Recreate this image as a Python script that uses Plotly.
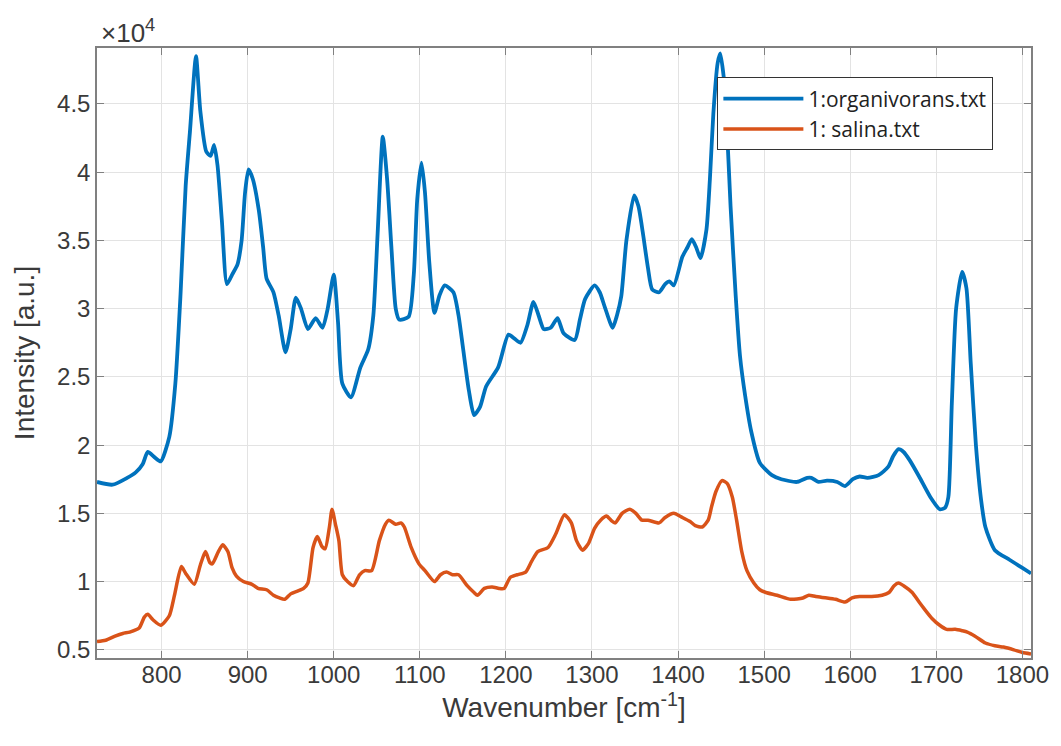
import plotly.graph_objects as go

SCALE = 1e4

blue_x = [725, 743, 760, 770, 778, 784, 792, 799, 809, 816, 822, 828, 833, 840, 845, 852, 857, 861, 865, 870,
          876, 882, 888, 893, 897, 901, 906, 913, 918, 922, 930, 936, 944, 950, 956, 962, 970, 979, 987, 993,
          1000, 1005, 1010, 1020, 1031, 1040, 1046, 1051, 1057, 1062, 1067, 1072, 1076, 1087, 1093, 1097, 1102, 1106, 1111, 1117,
          1123, 1129, 1139, 1145, 1150, 1157, 1163, 1170, 1177, 1191, 1203, 1210, 1217, 1225, 1232, 1238, 1244, 1252, 1260, 1267,
          1280, 1286, 1292, 1303, 1309, 1315, 1324, 1329, 1334, 1340, 1349, 1354, 1359, 1365, 1370, 1378, 1385, 1390, 1395, 1405,
          1411, 1416, 1421, 1426, 1433, 1437, 1441, 1446, 1449, 1453, 1456, 1461, 1467, 1472, 1478, 1485, 1495, 1509, 1520, 1538,
          1550, 1555, 1563, 1573, 1585, 1594, 1603, 1611, 1620, 1633, 1644, 1650, 1656, 1662, 1669, 1680, 1693, 1704, 1710, 1714,
          1718, 1723, 1730, 1735, 1740, 1746, 1752, 1757, 1768, 1785, 1800, 1810]
blue_y = [1.73, 1.71, 1.76, 1.80, 1.86, 1.95, 1.91, 1.88, 2.06, 2.45, 3.10, 3.90, 4.30, 4.85, 4.45, 4.15, 4.12, 4.20, 4.05, 3.65,
          3.18, 3.25, 3.32, 3.50, 3.85, 4.02, 3.95, 3.72, 3.45, 3.22, 3.12, 2.95, 2.68, 2.85, 3.08, 3.00, 2.85, 2.93, 2.86, 3.00,
          3.25, 2.90, 2.45, 2.35, 2.57, 2.70, 2.95, 3.55, 4.26, 3.95, 3.45, 3.00, 2.92, 2.94, 3.25, 3.80, 4.07, 3.85, 3.34, 2.97,
          3.10, 3.17, 3.12, 2.95, 2.72, 2.40, 2.22, 2.28, 2.43, 2.57, 2.81, 2.78, 2.75, 2.88, 3.05, 2.95, 2.85, 2.86, 2.93, 2.82,
          2.77, 2.92, 3.07, 3.17, 3.12, 3.01, 2.86, 2.95, 3.09, 3.50, 3.83, 3.75, 3.56, 3.30, 3.14, 3.12, 3.18, 3.20, 3.17, 3.38,
          3.45, 3.51, 3.45, 3.37, 3.58, 3.95, 4.43, 4.80, 4.87, 4.70, 4.43, 3.75, 3.09, 2.65, 2.36, 2.10, 1.87, 1.78, 1.75, 1.73,
          1.76, 1.76, 1.73, 1.74, 1.73, 1.70, 1.75, 1.77, 1.76, 1.78, 1.84, 1.92, 1.97, 1.95, 1.89, 1.77, 1.62, 1.53, 1.54, 1.62,
          2.30, 3.00, 3.27, 3.15, 2.60, 2.00, 1.60, 1.40, 1.23, 1.16, 1.10, 1.06]

orange_x = [725, 735, 746, 755, 763, 774, 780, 784, 790, 799, 809, 815, 823, 828, 838, 845, 851, 856, 859, 866,
            871, 877, 882, 887, 895, 905, 912, 922, 930, 937, 943, 950, 958, 965, 970, 976, 981, 986, 990, 995,
            998, 1002, 1006, 1010, 1016, 1023, 1030, 1036, 1044, 1053, 1060, 1064, 1072, 1078, 1082, 1090, 1099, 1106, 1117, 1124,
            1131, 1138, 1145, 1155, 1163, 1167, 1175, 1184, 1192, 1198, 1205, 1213, 1223, 1230, 1237, 1249, 1258, 1268, 1276, 1282,
            1289, 1296, 1303, 1310, 1317, 1322, 1327, 1335, 1344, 1351, 1358, 1365, 1378, 1385, 1395, 1405, 1414, 1420, 1428, 1435,
            1439, 1444, 1451, 1457, 1463, 1468, 1474, 1480, 1488, 1495, 1502, 1515, 1531, 1545, 1552, 1560, 1573, 1583, 1594, 1602,
            1611, 1625, 1637, 1645, 1651, 1656, 1662, 1672, 1680, 1686, 1695, 1704, 1712, 1722, 1730, 1736, 1745, 1757, 1768, 1778,
            1790, 1800, 1810]
orange_y = [0.56, 0.57, 0.60, 0.62, 0.63, 0.66, 0.74, 0.76, 0.72, 0.68, 0.75, 0.90, 1.11, 1.06, 0.98, 1.12, 1.22, 1.14, 1.13, 1.22,
            1.27, 1.22, 1.10, 1.04, 1.00, 0.98, 0.95, 0.94, 0.90, 0.88, 0.87, 0.91, 0.93, 0.95, 0.99, 1.25, 1.33, 1.26, 1.24, 1.40,
            1.53, 1.42, 1.30, 1.05, 1.00, 0.97, 1.05, 1.08, 1.08, 1.30, 1.42, 1.45, 1.42, 1.43, 1.40, 1.25, 1.13, 1.08, 1.00, 1.05,
            1.07, 1.05, 1.05, 0.97, 0.92, 0.90, 0.95, 0.96, 0.95, 0.95, 1.03, 1.05, 1.07, 1.15, 1.22, 1.25, 1.35, 1.49, 1.43, 1.30,
            1.23, 1.28, 1.39, 1.45, 1.48, 1.45, 1.43, 1.50, 1.53, 1.50, 1.45, 1.45, 1.43, 1.47, 1.50, 1.47, 1.44, 1.41, 1.40, 1.45,
            1.55, 1.66, 1.74, 1.72, 1.62, 1.45, 1.22, 1.08, 0.99, 0.94, 0.92, 0.90, 0.87, 0.88, 0.90, 0.89, 0.88, 0.87, 0.85, 0.88,
            0.89, 0.89, 0.90, 0.92, 0.97, 0.99, 0.97, 0.92, 0.85, 0.80, 0.73, 0.68, 0.65, 0.65, 0.64, 0.63, 0.60, 0.55, 0.53, 0.52,
            0.50, 0.48, 0.47]

series_names = ["1:organivorans.txt", "1: salina.txt"]
x_ticks = [800, 900, 1000, 1100, 1200, 1300, 1400, 1500, 1600, 1700, 1800]
y_tick_labels = ["0.5", "1", "1.5", "2", "2.5", "3", "3.5", "4", "4.5"]
y_tick_values = [0.5, 1, 1.5, 2, 2.5, 3, 3.5, 4, 4.5]

FONT = "Liberation Sans"
TXT = "#3a3a3a"

fig = go.Figure()
fig.add_trace(go.Scatter(x=blue_x, y=[v * SCALE for v in blue_y], mode="lines", name=series_names[0],
                         line=dict(color="#0072BD", width=3.8, shape="spline", smoothing=0.6)))
fig.add_trace(go.Scatter(x=orange_x, y=[v * SCALE for v in orange_y], mode="lines", name=series_names[1],
                         line=dict(color="#D95319", width=3.5, shape="spline", smoothing=0.6)))

axis_common = dict(showline=True, linecolor="#808080", linewidth=1.5, mirror="allticks", ticks="inside",
                   ticklen=7, tickcolor="#808080", showgrid=True, gridcolor="#e3e3e3", gridwidth=1,
                   zeroline=False, ticklabeloverflow="allow",
                   tickfont=dict(family=FONT, size=24, color=TXT))

fig.update_xaxes(range=[725, 1810], tickvals=x_ticks, ticklabelstandoff=-6,
                 title=dict(text="Wavenumber [cm<sup>-1</sup>]", font=dict(family=FONT, size=28, color=TXT), standoff=10),
                 **axis_common)
fig.update_yaxes(range=[4400, 49100], tickvals=[v * SCALE for v in y_tick_values], ticktext=y_tick_labels,
                 title=dict(text="Intensity [a.u.]", font=dict(family=FONT, size=28, color=TXT), standoff=14),
                 **axis_common)

fig.add_annotation(x=0, y=1, xref="paper", yref="paper", xanchor="left", yanchor="bottom",
                   text="×10<sup>4</sup>", showarrow=False, xshift=2, yshift=-2,
                   font=dict(family=FONT, size=26, color=TXT))

fig.update_layout(
    width=1053, height=730,
    margin=dict(l=89, r=13, t=40, b=80),
    plot_bgcolor="white", paper_bgcolor="white",
    legend=dict(x=0.664, y=0.952, xanchor="left", yanchor="top", bgcolor="white",
                bordercolor="#333333", borderwidth=1.2, itemwidth=80,
                font=dict(family="Open Sans", size=21, color="#222222")),
)

fig.write_html("out.html")
